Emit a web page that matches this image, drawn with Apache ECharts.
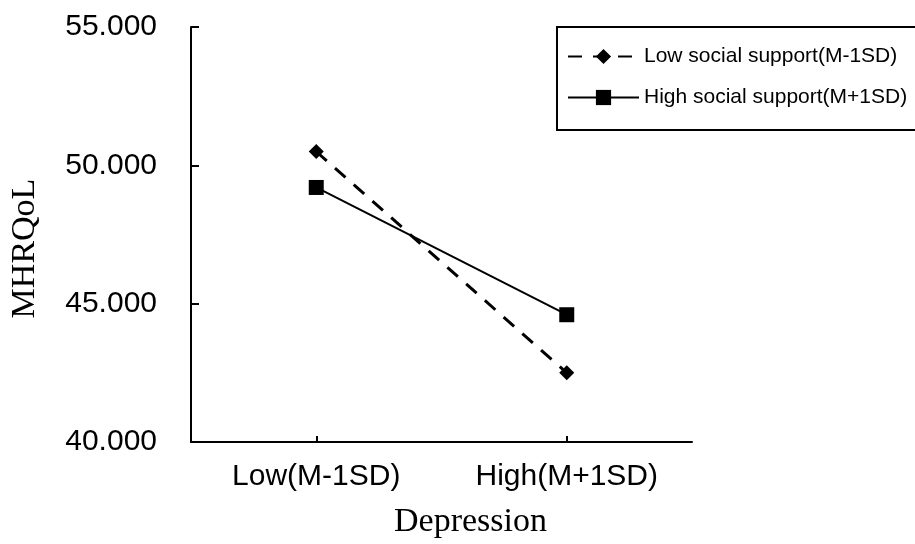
<!DOCTYPE html>
<html>
<head>
<meta charset="utf-8">
<script src="https://cdn.jsdelivr.net/npm/echarts@6/dist/echarts.min.js"></script>
<style>
  html, body { margin: 0; padding: 0; background: #fff; }
  #chart { width: 915px; height: 544px; }
</style>
</head>
<body>
<div id="chart"></div>
<script>
// 数据
const categories = ['Low(M-1SD)', 'High(M+1SD)'];
const lowSupport = [50.5, 42.5];
const highSupport = [49.2, 44.6];
const seriesNames = ['Low social support(M-1SD)', 'High social support(M+1SD)'];

const chart = echarts.init(document.getElementById('chart'));

const option = {
    backgroundColor: '#fff',
    animation: false,
    grid: { left: 191, right: 223, top: 27, bottom: 101, containLabel: false },
    legend: {
        left: 557,
        top: 27,
        orient: 'vertical',
        itemGap: 20,
        itemWidth: 71,
        itemHeight: 19,
        padding: [19, 14, 22, 10],
        borderColor: '#000',
        borderWidth: 2,
        borderRadius: 0,
        textStyle: { fontFamily: 'Liberation Sans, Arial', fontSize: 21, color: '#000' },
        data: seriesNames
    },
    xAxis: {
        type: 'category',
        data: categories,
        boundaryGap: true,
        name: 'Depression',
        nameLocation: 'middle',
        nameGap: 63,
        nameTextStyle: {
            fontFamily: 'Liberation Serif, Times New Roman',
            fontSize: 34,
            color: '#000',
            padding: [0, 0, 0, 58]
        },
        axisLine: { lineStyle: { color: '#000', width: 2 } },
        axisTick: { show: true, inside: true, length: 6, alignWithLabel: true, lineStyle: { color: '#000', width: 2 } },
        axisLabel: { margin: 20, fontFamily: 'Liberation Sans, Arial', fontSize: 30, color: '#000' },
        splitLine: { show: false }
    },
    yAxis: {
        type: 'value',
        min: 40,
        max: 55,
        interval: 5,
        name: 'MHRQoL',
        nameLocation: 'middle',
        nameGap: 149,
        nameRotate: 90,
        nameTextStyle: {
            fontFamily: 'Liberation Serif, Times New Roman',
            fontSize: 34,
            color: '#000',
            padding: [0, 28, 0, 0]
        },
        axisLine: { show: true, lineStyle: { color: '#000', width: 2 } },
        axisTick: { show: true, inside: true, length: 8, lineStyle: { color: '#000', width: 2 } },
        axisLabel: {
            margin: 34,
            fontFamily: 'Liberation Sans, Arial',
            fontSize: 30,
            color: '#000',
            formatter: function (v) { return v.toFixed(3); }
        },
        splitLine: { show: false }
    },
    series: [
        {
            name: seriesNames[0],
            type: 'line',
            data: lowSupport,
            symbol: 'diamond',
            symbolSize: 15,
            itemStyle: { color: '#000' },
            lineStyle: { color: '#000', width: 3, type: [14, 11] }
        },
        {
            name: seriesNames[1],
            type: 'line',
            data: highSupport,
            symbol: 'rect',
            symbolSize: 15,
            itemStyle: { color: '#000' },
            lineStyle: { color: '#000', width: 2, type: 'solid' }
        }
    ]
};

chart.setOption(option);
</script>
</body>
</html>
